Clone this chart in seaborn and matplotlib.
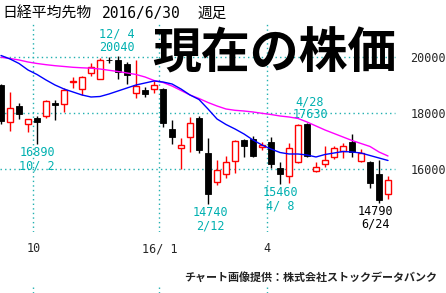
import numpy as np
import pandas as pd
import matplotlib
matplotlib.use("Agg")
import matplotlib.pyplot as plt
import seaborn as sns

# ---------------- data (weekly candles, Nikkei 225 futures) ----------------
weeks = pd.date_range("2015-09-04", periods=44, freq="W-FRI")
opens = [19000, 17670, 18250, 17600, 17830, 17900, 18340, 18320, 19095, 18845,
         19430, 19215, 19910, 19895, 19750, 18730, 18820, 18845, 18840, 17420,
         16740, 17155, 17810, 16580, 15545, 15810, 16295, 17035, 17055, 16795,
         16975, 16045, 15750, 16240, 17605, 15940, 16180, 16420, 16655, 16975,
         16295, 16260, 15820, 15105]
highs = [19040, 18740, 18370, 17780, 17875, 18460, 18480, 18880, 19285, 19330,
         19795, 19975, 19990, 20040, 19830, 19910, 18945, 19125, 18875, 17750,
         17095, 17870, 17895, 17095, 16320, 16465, 17035, 17055, 17195, 16975,
         17130, 16260, 16920, 17605, 17630, 16260, 16820, 16830, 16920, 17250,
         16705, 16270, 16320, 15750]
lows = [17590, 17370, 17770, 17330, 16890, 17830, 17740, 18045, 18875, 18660,
        19320, 19215, 19785, 19230, 19035, 18525, 18580, 18725, 17510, 16880,
        15990, 16620, 16580, 14740, 15430, 15670, 15845, 16430, 16440, 16680,
        16025, 15460, 15490, 16205, 16445, 15905, 16060, 16345, 16380, 16420,
        16260, 15310, 14790, 14930]
closes = [17725, 18170, 17980, 17775, 17670, 18430, 18270, 18820, 19125, 19275,
          19655, 19895, 19875, 19465, 19355, 18965, 18680, 19000, 17655, 17130,
          16855, 17630, 16680, 15095, 15965, 16260, 17000, 16830, 16475, 16855,
          16180, 15810, 16740, 17555, 16475, 16080, 16320, 16740, 16820, 16595,
          16560, 15510, 14895, 15605]
ma_short = [20054, 19929, 19768, 19536, 19375, 19179, 19000, 18857, 18750, 18643,
            18571, 18589, 18679, 18786, 18893, 19000, 19071, 19143, 19107, 19036,
            18857, 18643, 18482, 18143, 17786, 17589, 17429, 17250, 17036, 16857,
            16714, 16589, 16536, 16536, 16500, 16429, 16518, 16571, 16625, 16607,
            16571, 16482, 16393, 16304]
ma_long = [19989, 19946, 19893, 19821, 19768, 19725, 19689, 19661, 19632, 19614,
           19600, 19571, 19525, 19482, 19429, 19375, 19286, 19161, 19089, 18964,
           18804, 18643, 18518, 18375, 18250, 18143, 18096, 18071, 18036, 17989,
           17946, 17893, 17857, 17804, 17679, 17536, 17393, 17268, 17143, 17018,
           16911, 16804, 16607, 16464]

price_ticks = [16000, 18000, 20000]
price_tick_labels = ["16000", "18000", "20000"]
month_start_idx = [4, 18, 30]
month_labels = ["10", "16/ 1", "4"]

# annotations: (candle index, which value, date text, above/below, colour)
ann_idx = [13, 4, 23, 31, 34, 42]
ann_kind = ["high", "low", "low", "low", "high", "low"]
ann_date = ["12/ 4", "10/ 2", "2/12", "4/ 8", "4/28", "6/24"]
ann_dx = [-1, 0, 2, 0, 3, -4]
ann_color = ["#00B0B0"] * 5 + ["black"]

title = "日経平均先物"
title_date = "2016/6/30"
title_kind = "週足"
headline = "現在の株価"
credit = "チャート画像提供：株式会社ストックデータバンク"

# ---------------- style ----------------
sns.set_style("white")
plt.rcParams["font.family"] = ["Noto Sans CJK JP", "DejaVu Sans"]

W, H = 446, 293
fig = plt.figure(figsize=(W / 100, H / 100), dpi=100)
fig.patch.set_facecolor("white")


def fy(py):
    return 1 - py / H


GRID = "#20B0B0"
dot = (0, (1, 2.3))

ax = fig.add_axes([0, fy(232), 400 / W, (232 - 20) / H])
ax.set_facecolor("white")
x = np.arange(len(weeks))

# grid
for p in price_ticks:
    ax.axhline(p, xmin=0, xmax=395 / 400, color=GRID, lw=1.0, ls=dot, zorder=0)
for m in month_start_idx:
    ax.axvline(m - 0.4, ymax=0.99, color=GRID, lw=1.0, ls=dot, zorder=0)

# candles
o = np.array(opens); c = np.array(closes); hi = np.array(highs); lo = np.array(lows)
up = c >= o
cols = np.where(up, "#FF0000", "#000000")
ax.vlines(x, lo, hi, colors=cols, lw=1.0, zorder=2)
body_lo = np.minimum(o, c)
body_h = np.maximum(np.abs(c - o), 25)
ax.bar(x[up], body_h[up], bottom=body_lo[up], width=0.58, facecolor="white",
       edgecolor="#FF0000", linewidth=1.0, zorder=3)
ax.bar(x[~up], body_h[~up], bottom=body_lo[~up], width=0.62, facecolor="black",
       edgecolor="black", linewidth=0.6, zorder=3)

# moving averages via seaborn
df = pd.DataFrame({"i": x, "short": ma_short, "long": ma_long})
sns.lineplot(data=df, x="i", y="long", color="#FF00FF", lw=1.0, ax=ax, zorder=4)
sns.lineplot(data=df, x="i", y="short", color="#0000FF", lw=1.0, ax=ax, zorder=4)

ax.set_xlim(-0.111, 44.333)
ax.set_ylim(13750, 21321)
for s in ax.spines.values():
    s.set_visible(False)
ax.set_xlabel("")
ax.set_ylabel("")

mono = "DejaVu Sans Mono"
ax.yaxis.tick_right()
ax.set_yticks(price_ticks)
ax.set_yticklabels(price_tick_labels, fontsize=8.5, family=mono)
ax.set_xticks([m - 0.4 for m in month_start_idx])
ax.set_xticklabels(month_labels, fontsize=8.5, family=mono)
ax.tick_params(axis="both", length=0)
ax.tick_params(axis="y", pad=7.5)
ax.tick_params(axis="x", pad=7.5)

# annotations
for i, kind, dlab, dx, col in zip(ann_idx, ann_kind, ann_date, ann_dx, ann_color):
    if kind == "high":
        v = highs[i]
        ax.annotate(f"{v}", xy=(i, v), xytext=(dx, 5), textcoords="offset pixels",
                    ha="center", va="baseline", fontsize=8.5, family=mono, color=col)
        ax.annotate(dlab, xy=(i, v), xytext=(dx, 18), textcoords="offset pixels",
                    ha="center", va="baseline", fontsize=8.5, family=mono, color=col)
    else:
        v = lows[i]
        ax.annotate(f"{v}", xy=(i, v), xytext=(dx, -2), textcoords="offset pixels",
                    ha="center", va="top", fontsize=8.5, family=mono, color=col)
        ax.annotate(dlab, xy=(i, v), xytext=(dx, -15), textcoords="offset pixels",
                    ha="center", va="top", fontsize=8.5, family=mono, color=col)

# small grid dots at the very bottom
axb = fig.add_axes([0, 0, 400 / W, 6 / H], sharex=ax)
axb.axis("off")
for m in month_start_idx:
    axb.axvline(m - 0.4, color=GRID, lw=1.0, ls=dot)

# titles
fig.text(2 / W, fy(18), title, fontsize=10.7, color="black", ha="left", va="baseline")
fig.text(102 / W, fy(18), title_date, fontsize=10.5, family=mono, color="black",
         ha="left", va="baseline")
fig.text(197 / W, fy(18), title_kind, fontsize=10.5, color="black", ha="left", va="baseline")
fig.text(152 / W, fy(68), headline, fontsize=35.2, fontweight="bold", color="black",
         ha="left", va="baseline")
fig.text(437 / W, fy(281), credit, fontsize=7.95, fontweight="bold", color="#222222",
         ha="right", va="baseline")

fig.savefig("out.png", dpi=100, facecolor="white")
